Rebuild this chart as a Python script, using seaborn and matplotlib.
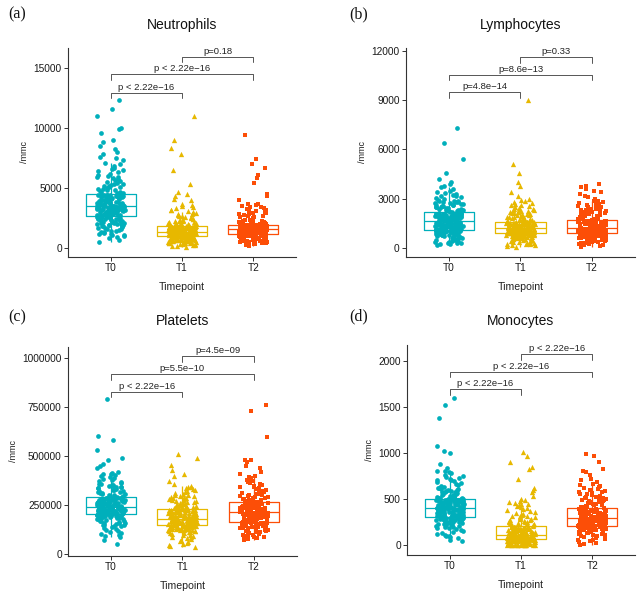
import numpy as np
import pandas as pd
import matplotlib
matplotlib.use("Agg")
import matplotlib.pyplot as plt
import seaborn as sns

np.random.seed(7)

timepoints = ["T0", "T1", "T2"]
palette = ["#00AFBB", "#E7B800", "#FC4E07"]
markers = ["o", "^", "s"]

# ---------------- data (/mmc) ----------------
neutrophils_T0 = [500, 650, 800, 900, 1000, 1100, 1150, 1200, 1300, 1400, 1450, 1500, 1600, 1650, 1700, 1800, 1850, 1900, 1950, 2000, 2050, 2100, 2150, 2200, 2250, 2300, 2350, 2400, 2450, 2500, 2550, 2600,
                  2650, 2680, 2700, 2730, 2760, 2800, 2830, 2860, 2900, 2930, 2960, 3000, 3030, 3060, 3100, 3130, 3150, 3180, 3200, 3230, 3250, 3280, 3300, 3320, 3340, 3360, 3380, 3400, 3420, 3440, 3450, 3460, 3470,
                  3500, 3530, 3560, 3600, 3630, 3660, 3700, 3730, 3760, 3800, 3830, 3860, 3900, 3930, 3960, 4000, 4030, 4060, 4100, 4130, 4160, 4200, 4230, 4260, 4290, 4320, 4350, 4380, 4400, 4420, 4440,
                  4500, 4600, 4700, 4800, 4900, 5000, 5100, 5200, 5300, 5450, 5600, 5750, 5900, 6000, 6200, 6400, 6600, 6800, 7000, 7300, 7600, 7800, 8200, 8500, 8800, 9000, 9600, 9900, 10000, 11000, 11600, 12300,
                  1050, 1250, 1350, 1550, 1750, 1820, 1880, 1980, 2020, 2120, 2180, 2230, 2280, 2330, 2380, 2420, 2480, 2520, 2580, 2620,
                  2670, 2720, 2780, 2820, 2880, 2920, 2980, 3020, 3080, 3120, 3170, 3210, 3260, 3310, 3350, 3390, 3410, 3430, 3455, 3465,
                  3520, 3580, 3640, 3680, 3720, 3780, 3820, 3880, 3920, 3980, 4020, 4080, 4120, 4180, 4220, 4280, 4330, 4370, 4410, 4430,
                  4550, 4650, 4750, 4850, 4950, 5050, 5150, 5250, 5350, 5500, 5650, 5800, 5950, 6100, 6300, 6500, 6700, 7100, 7500, 8000]
neutrophils_T1 = [50, 150, 250, 300, 350, 400, 450, 480, 520, 550, 580, 610, 640, 670, 700, 720, 740, 760, 780, 800, 820, 840, 860, 880, 900, 910, 920, 940, 950, 960,
                  980, 990, 1000, 1020, 1030, 1050, 1060, 1080, 1090, 1100, 1120, 1130, 1150, 1160, 1180, 1190, 1200, 1210, 1220, 1230, 1240, 1250, 1260, 1270, 1280, 1290, 1300, 1310, 1320, 1330,
                  1350, 1370, 1390, 1410, 1430, 1450, 1470, 1490, 1500, 1520, 1540, 1560, 1580, 1600, 1610, 1620, 1640, 1650, 1670, 1680, 1700, 1710, 1720, 1730, 1740, 1750, 1760, 1770, 1780, 1800,
                  1850, 1900, 1950, 2000, 2050, 2100, 2200, 2250, 2300, 2400, 2500, 2600, 2700, 2800, 2900, 3000, 3100, 3200, 3300, 3500, 3700, 4000, 4300, 4500, 4700, 5300, 6500, 7800, 8300, 9000, 11000,
                  200, 280, 330, 380, 420, 470, 500, 530, 560, 600, 630, 660, 690, 710, 750, 790, 830, 870, 930, 945,
                  985, 1010, 1040, 1070, 1085, 1110, 1140, 1170, 1195, 1205, 1215, 1235, 1245, 1265, 1285, 1295, 1305, 1315, 1325, 1328,
                  1360, 1400, 1440, 1480, 1510, 1530, 1550, 1570, 1590, 1630, 1660, 1690, 1715, 1725, 1745, 1755, 1765, 1775, 1785, 1795,
                  1820, 1880, 1930, 1980, 2030, 2080, 2150, 2230, 2280, 2350, 2450, 2550, 2650, 2750, 2850, 2950, 3150, 3400, 3600, 4100]
neutrophils_T2 = [200, 300, 400, 450, 500, 550, 600, 650, 700, 730, 760, 790, 820, 850, 870, 890, 910, 930, 950, 970, 990, 1000, 1020, 1030, 1050, 1060, 1070, 1080, 1090, 1100,
                  1120, 1140, 1150, 1170, 1180, 1200, 1220, 1230, 1250, 1260, 1280, 1290, 1310, 1320, 1340, 1350, 1370, 1380, 1400, 1410, 1420, 1440, 1450, 1460, 1470, 1480, 1490, 1500, 1510, 1520,
                  1530, 1550, 1560, 1580, 1590, 1600, 1610, 1630, 1640, 1650, 1660, 1680, 1690, 1700, 1710, 1720, 1730, 1750, 1760, 1770, 1780, 1790, 1800, 1810, 1820, 1830, 1840, 1850, 1860, 1880,
                  1920, 1960, 2000, 2050, 2100, 2150, 2200, 2250, 2300, 2400, 2500, 2600, 2700, 2800, 2900, 3000, 3100, 3200, 3300, 3400, 3500, 3600, 3700, 4000, 4300, 4500, 5400, 5800, 6100, 6700, 7000, 7400, 9400,
                  250, 350, 420, 480, 520, 580, 620, 680, 720, 750, 780, 810, 840, 860, 880, 920, 960, 1010, 1040, 1095,
                  1130, 1160, 1190, 1210, 1240, 1270, 1300, 1330, 1360, 1390, 1415, 1430, 1445, 1455, 1465, 1475, 1485, 1495, 1505, 1515,
                  1540, 1570, 1600, 1620, 1650, 1670, 1700, 1725, 1740, 1755, 1765, 1775, 1785, 1795, 1805, 1815, 1835, 1845, 1855, 1870,
                  1900, 1940, 1980, 2020, 2080, 2120, 2180, 2220, 2280, 2350, 2450, 2550, 2650, 2750, 2850, 2950, 3050, 3250, 3450, 3650]

lymphocytes_T0 = [200, 250, 300, 350, 400, 450, 500, 550, 600, 650, 700, 740, 780, 820, 850, 880, 900, 920, 940, 960, 980, 1000, 1020, 1040, 1050, 1060, 1070, 1080, 1090, 1100,
                  1130, 1150, 1170, 1190, 1210, 1230, 1250, 1270, 1290, 1310, 1330, 1350, 1370, 1390, 1410, 1420, 1440, 1450, 1470, 1480, 1500, 1510, 1530, 1540, 1550, 1560, 1580, 1590, 1600, 1610,
                  1630, 1650, 1670, 1690, 1710, 1730, 1750, 1770, 1790, 1810, 1830, 1850, 1870, 1890, 1910, 1930, 1950, 1970, 1990, 2000, 2020, 2040, 2050, 2060, 2070, 2080, 2090, 2100, 2110, 2120,
                  2150, 2200, 2250, 2300, 2350, 2400, 2450, 2500, 2550, 2600, 2650, 2700, 2750, 2800, 2850, 2900, 3000, 3100, 3200, 3300, 3400, 3500, 3600, 3700, 3800, 3900, 4000, 4200, 4600, 5400, 6400, 7300,
                  280, 330, 380, 420, 480, 520, 580, 620, 680, 720, 760, 800, 830, 860, 890, 910, 930, 970, 1010, 1030,
                  1120, 1140, 1160, 1180, 1200, 1220, 1240, 1260, 1280, 1300, 1320, 1340, 1360, 1380, 1400, 1430, 1460, 1490, 1520, 1570,
                  1640, 1660, 1680, 1700, 1720, 1740, 1760, 1780, 1800, 1820, 1840, 1860, 1880, 1900, 1920, 1940, 1960, 1980, 2030, 2080,
                  2180, 2230, 2280, 2330, 2380, 2430, 2480, 2530, 2580, 2630, 2680, 2730, 2780, 2830, 2880, 2950, 3050, 3150, 3250, 3350]
lymphocytes_T1 = [100, 150, 200, 250, 300, 350, 400, 450, 500, 540, 580, 620, 650, 680, 700, 720, 740, 760, 780, 800, 820, 840, 850, 860, 870, 880, 890, 900, 905, 910,
                  920, 930, 940, 950, 960, 970, 980, 990, 1000, 1010, 1020, 1030, 1040, 1050, 1060, 1070, 1080, 1090, 1100, 1110, 1120, 1130, 1140, 1150, 1160, 1170, 1180, 1190, 1200, 1210,
                  1230, 1250, 1270, 1290, 1300, 1320, 1340, 1350, 1370, 1390, 1400, 1420, 1440, 1450, 1460, 1480, 1490, 1500, 1510, 1520, 1530, 1540, 1550, 1560, 1570, 1580, 1590, 1600, 1610, 1615,
                  1650, 1700, 1750, 1800, 1850, 1900, 1950, 2000, 2050, 2100, 2150, 2200, 2250, 2300, 2350, 2400, 2450, 2500, 2600, 2700, 2800, 2900, 3000, 3200, 3400, 3800, 4000, 4600, 5100, 9000,
                  180, 230, 280, 330, 380, 420, 480, 520, 560, 600, 630, 660, 690, 710, 730, 750, 770, 790, 810, 830,
                  915, 925, 935, 945, 955, 965, 975, 985, 995, 1005, 1015, 1025, 1035, 1045, 1055, 1065, 1075, 1085, 1095, 1105,
                  1240, 1260, 1280, 1310, 1330, 1360, 1380, 1410, 1430, 1455, 1470, 1485, 1495, 1505, 1525, 1545, 1565, 1585, 1595, 1605,
                  1620, 1680, 1720, 1780, 1820, 1880, 1920, 1980, 2020, 2080, 2120, 2180, 2220, 2280, 2320, 2380, 2550, 2650, 2750, 2950]
lymphocytes_T2 = [100, 150, 200, 250, 300, 350, 400, 450, 500, 550, 600, 640, 680, 710, 740, 770, 800, 820, 840, 860, 870, 880, 890, 900, 910, 920, 930, 940, 945, 950,
                  960, 970, 980, 990, 1000, 1010, 1020, 1030, 1040, 1050, 1060, 1070, 1080, 1090, 1100, 1110, 1120, 1130, 1140, 1150, 1160, 1170, 1180, 1185, 1190, 1195, 1200, 1205, 1210, 1215,
                  1230, 1250, 1270, 1290, 1310, 1330, 1350, 1370, 1390, 1410, 1430, 1450, 1470, 1490, 1510, 1530, 1550, 1570, 1590, 1600, 1620, 1630, 1640, 1650, 1660, 1670, 1680, 1690, 1700, 1715,
                  1750, 1800, 1850, 1900, 1950, 2000, 2050, 2100, 2150, 2200, 2250, 2300, 2350, 2400, 2450, 2500, 2550, 2600, 2700, 2800, 2900, 3000, 3100, 3200, 3300, 3400, 3500, 3600, 3700, 3800, 3900,
                  180, 230, 280, 330, 380, 420, 480, 520, 570, 620, 660, 700, 730, 760, 790, 810, 830, 850, 865, 875,
                  955, 965, 975, 985, 995, 1005, 1015, 1025, 1035, 1045, 1055, 1065, 1075, 1085, 1095, 1105, 1115, 1125, 1135, 1145,
                  1240, 1260, 1280, 1300, 1320, 1340, 1360, 1380, 1400, 1420, 1440, 1460, 1480, 1500, 1520, 1540, 1560, 1580, 1610, 1660,
                  1730, 1780, 1830, 1880, 1930, 1980, 2030, 2080, 2130, 2180, 2230, 2280, 2330, 2380, 2430, 2480, 2650, 2750, 2850, 2950]

# platelets in thousands /mmc
platelets_T0_k = [55, 75, 90, 100, 110, 120, 130, 140, 145, 150, 155, 160, 165, 170, 175, 180, 183, 186, 189, 192, 194, 196, 198, 200, 201, 202, 203, 204, 205, 206,
                  207, 208, 209, 210, 211, 212, 213, 214, 215, 216, 217, 218, 219, 220, 221, 222, 223, 224, 225, 226, 227, 228, 229, 230, 232, 234, 235, 236, 238, 240,
                  242, 244, 246, 248, 250, 252, 254, 256, 258, 260, 262, 264, 266, 268, 270, 272, 274, 276, 278, 280, 281, 282, 283, 284, 285, 286, 287, 288, 289, 290,
                  295, 300, 305, 310, 315, 320, 325, 330, 335, 340, 345, 350, 355, 360, 370, 380, 390, 400, 405, 410, 420, 440, 450, 460, 480, 490, 530, 580, 600, 790,
                  95, 105, 115, 125, 135, 142, 148, 152, 158, 162, 168, 172, 178, 181, 184, 187, 190, 193, 197, 199,
                  205, 207, 209, 211, 213, 215, 217, 219, 221, 223, 225, 227, 229, 231, 233, 235, 237, 238, 239, 240,
                  243, 245, 247, 249, 251, 253, 255, 257, 259, 261, 263, 265, 267, 269, 271, 273, 275, 277, 279, 288,
                  292, 298, 302, 308, 312, 318, 322, 328, 332, 338, 342, 348, 352, 358, 365, 375, 385, 395, 410, 415]
platelets_T1_k = [40, 50, 60, 70, 80, 85, 90, 95, 100, 105, 110, 113, 116, 119, 122, 125, 127, 129, 131, 133, 135, 137, 139, 140, 141, 142, 143, 144, 145, 146,
                  148, 149, 150, 151, 152, 154, 155, 156, 158, 159, 160, 161, 163, 164, 165, 166, 168, 169, 170, 171, 172, 173, 174, 175, 176, 177, 178, 179, 180, 181,
                  183, 185, 187, 189, 191, 193, 195, 197, 199, 201, 203, 205, 207, 209, 211, 213, 215, 216, 218, 219, 220, 221, 222, 223, 224, 225, 226, 227, 228, 230,
                  233, 236, 240, 244, 248, 252, 256, 260, 265, 270, 275, 280, 285, 290, 295, 300, 305, 310, 320, 330, 340, 350, 360, 375, 400, 410, 430, 455, 490, 510,
                  45, 55, 65, 75, 88, 98, 108, 112, 118, 121, 124, 126, 128, 130, 132, 134, 136, 138, 143, 146,
                  148, 150, 153, 155, 157, 159, 161, 162, 164, 166, 167, 169, 171, 173, 175, 176, 177, 178, 180, 181,
                  184, 186, 188, 190, 192, 194, 196, 198, 200, 202, 204, 206, 208, 210, 212, 214, 217, 221, 225, 229,
                  235, 238, 242, 246, 250, 254, 258, 262, 268, 272, 278, 282, 288, 292, 298, 302, 315, 325, 335, 345]
platelets_T2_k = [75, 80, 85, 90, 95, 100, 105, 110, 115, 120, 124, 128, 132, 135, 138, 141, 144, 146, 148, 150, 152, 154, 155, 156, 157, 158, 159, 160, 161, 162,
                  165, 167, 169, 171, 173, 175, 177, 179, 181, 183, 185, 187, 189, 191, 193, 195, 197, 199, 200, 202, 203, 204, 205, 206, 207, 208, 209, 210, 211, 213,
                  216, 218, 220, 222, 224, 226, 228, 230, 232, 234, 236, 238, 240, 242, 244, 246, 248, 250, 252, 254, 256, 257, 258, 259, 260, 261, 262, 263, 264, 265,
                  270, 275, 280, 285, 290, 295, 300, 305, 310, 315, 320, 325, 330, 340, 350, 360, 370, 380, 390, 400, 410, 420, 440, 450, 470, 480, 480, 595, 730, 760,
                  78, 82, 88, 92, 98, 102, 108, 112, 118, 122, 126, 130, 134, 137, 140, 143, 147, 151, 153, 160,
                  164, 166, 168, 170, 172, 174, 176, 178, 180, 182, 184, 186, 188, 190, 192, 194, 196, 198, 201, 212,
                  215, 217, 219, 221, 223, 225, 227, 229, 231, 233, 235, 237, 239, 241, 243, 245, 247, 249, 251, 253,
                  268, 272, 278, 282, 288, 292, 298, 302, 308, 312, 318, 322, 328, 335, 345, 355, 365, 375, 385, 395]

monocytes_T0 = [40, 60, 90, 100, 110, 130, 150, 170, 190, 200, 210, 220, 230, 240, 250, 255, 260, 265, 270, 275, 280, 283, 286, 288, 290, 292, 294, 296, 298, 300,
                303, 306, 310, 313, 316, 320, 323, 326, 330, 333, 336, 340, 343, 346, 350, 353, 356, 360, 363, 366, 370, 373, 376, 380, 383, 386, 390, 393, 396, 400,
                403, 406, 410, 413, 416, 420, 423, 426, 430, 433, 436, 440, 443, 446, 450, 453, 456, 460, 463, 466, 470, 473, 476, 480, 483, 486, 490, 492, 494, 496,
                500, 510, 520, 530, 540, 550, 560, 570, 580, 590, 600, 610, 620, 640, 660, 680, 700, 720, 740, 760, 780, 800, 800, 840, 880, 1000, 1020, 1070, 1380, 1520, 1600,
                80, 100, 120, 140, 160, 180, 195, 205, 215, 225, 235, 245, 252, 258, 262, 268, 272, 278, 285, 295,
                305, 311, 318, 324, 331, 338, 345, 351, 358, 364, 371, 378, 384, 388, 391, 394, 397, 398, 399, 400,
                405, 412, 418, 425, 432, 438, 445, 452, 458, 465, 472, 478, 482, 485, 488, 491, 493, 495, 495, 496,
                505, 515, 525, 535, 545, 555, 565, 575, 585, 595, 605, 615, 630, 650, 670, 690, 710, 730, 750, 790]
monocytes_T1 = [0, 0, 0, 0, 0, 0, 5, 10, 10, 15, 20, 20, 25, 30, 30, 35, 40, 40, 45, 45, 50, 50, 52, 55, 57, 58, 60, 60, 62, 64,
                66, 68, 70, 70, 72, 74, 75, 76, 78, 80, 80, 82, 84, 85, 86, 88, 90, 90, 92, 93, 94, 95, 96, 97, 98, 99, 100, 100, 102, 104,
                108, 112, 115, 118, 120, 124, 128, 130, 134, 138, 140, 144, 148, 150, 154, 158, 160, 164, 168, 170, 174, 178, 180, 184, 188, 190, 192, 194, 196, 198,
                205, 215, 225, 235, 245, 255, 265, 275, 285, 300, 310, 320, 340, 360, 380, 400, 420, 440, 460, 480, 500, 530, 570, 600, 620, 720, 830, 850, 900, 970, 1010,
                0, 0, 0, 0, 0, 0, 5, 10, 15, 20, 25, 30, 35, 40, 45, 50, 55, 58, 60, 63,
                66, 68, 70, 72, 74, 76, 78, 80, 82, 84, 86, 88, 90, 92, 94, 96, 98, 100, 100, 104,
                110, 116, 122, 126, 132, 136, 142, 146, 152, 156, 162, 166, 172, 176, 182, 186, 190, 194, 196, 198,
                210, 220, 230, 240, 250, 260, 270, 280, 290, 305, 315, 330, 350, 370, 390, 410, 430, 450, 470, 490]
monocytes_T2 = [0, 10, 30, 50, 70, 90, 100, 110, 120, 130, 140, 145, 150, 155, 160, 165, 170, 175, 178, 181, 184, 186, 188, 190, 192, 194, 195, 196, 197, 198,
                202, 205, 208, 211, 214, 217, 220, 223, 226, 229, 232, 235, 238, 241, 244, 247, 250, 253, 256, 259, 262, 265, 268, 271, 274, 277, 280, 283, 286, 289,
                293, 297, 301, 305, 309, 313, 317, 321, 325, 329, 333, 337, 341, 345, 349, 353, 357, 361, 365, 369, 373, 377, 381, 385, 388, 390, 392, 394, 396, 398,
                405, 415, 425, 435, 445, 455, 465, 475, 485, 495, 505, 515, 525, 540, 555, 570, 585, 600, 620, 640, 660, 680, 700, 720, 760, 790, 800, 830, 900, 970, 990,
                20, 40, 60, 80, 95, 105, 115, 125, 135, 142, 148, 152, 158, 162, 168, 172, 177, 183, 189, 195,
                203, 207, 212, 216, 221, 225, 230, 234, 239, 243, 248, 252, 257, 261, 266, 270, 275, 279, 284, 288,
                295, 299, 303, 307, 311, 315, 319, 323, 327, 331, 335, 339, 343, 347, 351, 355, 359, 363, 367, 371,
                400, 410, 420, 430, 440, 450, 460, 470, 480, 490, 500, 510, 520, 530, 550, 560, 580, 610, 630, 650]

comparisons = [("T0", "T1"), ("T0", "T2"), ("T1", "T2")]
panels = [
    dict(tag="(a)", title="Neutrophils",
         groups=[neutrophils_T0, neutrophils_T1, neutrophils_T2], scale=1,
         pvals=["p < 2.22e\u221216", "p < 2.22e\u221216", "p=0.18"],
         bracket_y=[12900, 14450, 15900],
         ylim=(-750, 16650), yticks=[0, 5000, 10000, 15000],
         rect=[0.1056, 0.5688, 0.354, 0.3507]),
    dict(tag="(b)", title="Lymphocytes",
         groups=[lymphocytes_T0, lymphocytes_T1, lymphocytes_T2], scale=1,
         pvals=["p=4.8e\u221214", "p=8.6e\u221213", "p=0.33"],
         bracket_y=[9480, 10540, 11610],
         ylim=(-530, 12165), yticks=[0, 3000, 6000, 9000, 12000],
         rect=[0.6304, 0.5688, 0.3556, 0.3507]),
    dict(tag="(c)", title="Platelets",
         groups=[platelets_T0_k, platelets_T1_k, platelets_T2_k], scale=1000,
         pvals=["p < 2.22e\u221216", "p=5.5e\u221210", "p=4.5e\u221209"],
         bracket_y=[826000, 915000, 1006000],
         ylim=(-8000, 1053600), yticks=[0, 250000, 500000, 750000, 1000000],
         rect=[0.1056, 0.0671, 0.3554, 0.3507]),
    dict(tag="(d)", title="Monocytes",
         groups=[monocytes_T0, monocytes_T1, monocytes_T2], scale=1,
         pvals=["p < 2.22e\u221216", "p < 2.22e\u221216", "p < 2.22e\u221216"],
         bracket_y=[1689, 1880, 2069],
         ylim=(-108, 2170), yticks=[0, 500, 1000, 1500, 2000],
         rect=[0.632, 0.0688, 0.354, 0.3524]),
]

sns.set_style("ticks")
plt.rcParams["font.family"] = ["Liberation Sans", "DejaVu Sans"]

W, H = 644, 596
fig = plt.figure(figsize=(W / 100, H / 100), dpi=100)

title_y = [25, 25, 321, 321]
tag_xy = [(17, 14), (359, 14), (17, 317), (359, 316)]

for i, p in enumerate(panels):
    ax = fig.add_axes(p["rect"])
    rows = []
    for t, vals in zip(timepoints, p["groups"]):
        for v in vals:
            rows.append((t, v * p["scale"]))
    df = pd.DataFrame(rows, columns=["Timepoint", "value"])

    sns.boxplot(data=df, x="Timepoint", y="value", hue="Timepoint", order=timepoints,
                hue_order=timepoints, palette=palette, fill=False, width=0.7,
                linewidth=0.9, showfliers=False, showcaps=False, legend=False,
                whis=1.5, ax=ax)
    for t, c, m in zip(timepoints, palette, markers):
        sub = df[df["Timepoint"] == t]
        sns.stripplot(data=sub, x="Timepoint", y="value", order=timepoints,
                      color=c, marker=m, size=3.4 if m != "^" else 3.8,
                      jitter=0.2, linewidth=0, ax=ax, zorder=3)

    ymin, ymax = p["ylim"]
    tip = 0.026 * (ymax - ymin)
    for (a, b), yb, lab in zip(comparisons, p["bracket_y"], p["pvals"]):
        xa, xb = timepoints.index(a), timepoints.index(b)
        ax.plot([xa, xa, xb, xb], [yb - tip, yb, yb, yb - tip],
                color="#555555", lw=0.7, zorder=4, clip_on=False)
        ax.annotate(lab, xy=((xa + xb) / 2, yb), xytext=(0, 0.8),
                    textcoords="offset points", ha="center", va="bottom",
                    fontsize=6.8, color="#222222")

    ax.set_xlim(-0.6, 2.6)
    ax.set_ylim(ymin, ymax)
    ax.set_yticks(p["yticks"])
    ax.set_yticklabels([str(v) for v in p["yticks"]])
    ax.set_xlabel("Timepoint", fontsize=7.6, labelpad=6, color="#222222")
    ax.set_ylabel("/mmc", fontsize=6.5, labelpad=3, color="#222222")
    ax.tick_params(axis="both", labelsize=7.3, length=3, width=0.7,
                   pad=1.5, colors="#333333", labelcolor="#1a1a1a")
    for s in ["top", "right"]:
        ax.spines[s].set_visible(False)
    for s in ["left", "bottom"]:
        ax.spines[s].set_linewidth(0.8)
        ax.spines[s].set_color("#333333")

    cx = p["rect"][0] + p["rect"][2] / 2
    fig.text(cx, 1 - title_y[i] / H, p["title"], ha="center", va="center",
             fontsize=10, color="#111111")
    tx, ty = tag_xy[i]
    fig.text(tx / W, 1 - ty / H, p["tag"], ha="center", va="center",
             fontsize=11.5, family=["Liberation Serif", "DejaVu Serif"],
             color="#111111")

fig.savefig("out.png", dpi=100)
